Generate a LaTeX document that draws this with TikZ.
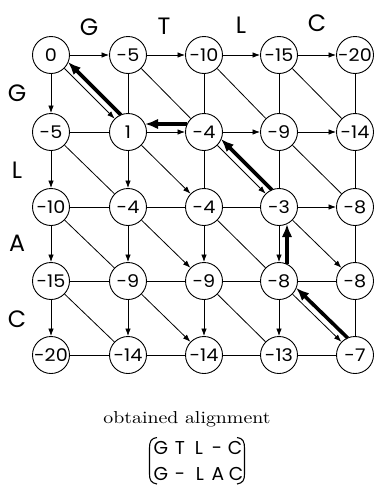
\documentclass[tikz,border=0pt]{standalone}
\usepackage{fontspec}
\newfontfamily\geo{Poppins}
\newfontfamily\geowide{Poppins}[FakeStretch=1.1]
\usetikzlibrary{arrows.meta}

% font sizes chosen from the measured cap and digit heights of the sans face
\newlength\capH
\newlength\digH
\settoheight\capH{\geo H}
\settoheight\digH{\geo 0}
\pgfmathsetmacro\seqsize{10*16.5/\capH}
\pgfmathsetmacro\alnsize{10*13/\capH}
\pgfmathsetmacro\cellsize{10*12.8/\digH}

\begin{document}
\begin{tikzpicture}[x=1pt,y=-1pt,
  cell/.style={circle,draw,line width=0.9pt,minimum size=37pt,inner sep=0pt,
    font=\geowide\fontsize{\cellsize}{\cellsize}\selectfont},
  link/.style={line width=0.8pt},
  flow/.style={line width=0.8pt,-{Latex[length=7.5pt,width=5.5pt]}},
  trace/.style={line width=3.6pt,-{Latex[length=13pt,width=10.5pt]},
    shorten <=17pt,shorten >=17pt},
  seq/.style={font=\geo\fontsize{\seqsize}{\seqsize}\selectfont,inner sep=0pt},
  aln/.style={font=\geo\fontsize{\alnsize}{\alnsize}\selectfont,inner sep=0pt,anchor=base},
]
\useasboundingbox (0,0) rectangle (374,485);

% score matrix cells
\node[cell] (n00) at (51,55) {0};
\node[cell] (n01) at (128,55) {-5};
\node[cell] (n02) at (204,55) {-10};
\node[cell] (n03) at (279,55) {-15};
\node[cell] (n04) at (355,55) {-20};
\node[cell] (n10) at (51,132) {-5};
\node[cell] (n11) at (128,132) {1};
\node[cell] (n12) at (204,132) {-4};
\node[cell] (n13) at (279,132) {-9};
\node[cell] (n14) at (355,132) {-14};
\node[cell] (n20) at (51,207) {-10};
\node[cell] (n21) at (128,207) {-4};
\node[cell] (n22) at (204,207) {-4};
\node[cell] (n23) at (279,207) {-3};
\node[cell] (n24) at (355,207) {-8};
\node[cell] (n30) at (51,281) {-15};
\node[cell] (n31) at (128,281) {-9};
\node[cell] (n32) at (204,281) {-9};
\node[cell] (n33) at (279,281) {-8};
\node[cell] (n34) at (355,281) {-8};
\node[cell] (n40) at (51,355) {-20};
\node[cell] (n41) at (128,355) {-14};
\node[cell] (n42) at (204,355) {-14};
\node[cell] (n43) at (279,355) {-13};
\node[cell] (n44) at (355,355) {-7};

% edges that give the maximum score
\foreach \a/\b in {n00/n01,n01/n02,n02/n03,n03/n04,n11/n12,n12/n13,n13/n14,n23/n24,
  n00/n10,n10/n20,n20/n30,n30/n40,n11/n21,n21/n31,n31/n41,n22/n32,n32/n42,n23/n33,n33/n43,
  n00/n11,n11/n22,n12/n23,n21/n32,n23/n34,n31/n42,n33/n44}
  \draw[flow] (\a) -- (\b);

% remaining edges
\foreach \a/\b in {n10/n11,n20/n21,n21/n22,n22/n23,n30/n31,n31/n32,n32/n33,n33/n34,
  n40/n41,n41/n42,n42/n43,n43/n44,
  n01/n11,n02/n12,n12/n22,n03/n13,n13/n23,n04/n14,n14/n24,n24/n34,n34/n44,
  n01/n12,n02/n13,n03/n14,n10/n21,n13/n24,n20/n31,n22/n33,n30/n41,n32/n43}
  \draw[link] (\a) -- (\b);

% traceback path
\draw[trace] ([shift={(5,-5)}]n44.center) -- ([shift={(5,-5)}]n33.center);
\draw[trace] ([shift={(8,0)}]n33.center) -- ([shift={(8,0)}]n23.center);
\draw[trace] ([shift={(5,-5)}]n23.center) -- ([shift={(5,-5)}]n12.center);
\draw[trace] ([shift={(0,-8)}]n12.center) -- ([shift={(0,-8)}]n11.center);
\draw[trace] ([shift={(5,-5)}]n11.center) -- ([shift={(5,-5)}]n00.center);

% sequence letters
\node[seq] (s1) at (89,27) {G};
\node[seq] (s2) at (164,26.5) {T};
\node[seq] (s3) at (241,25) {L};
\node[seq] (s4) at (317,23) {C};
\node[seq] (t1) at (17,93) {G};
\node[seq] (t2) at (17,170) {L};
\node[seq] (t3) at (17,243) {A};
\node[seq] (t4) at (17,319) {C};

% resulting alignment
\node[anchor=base,inner sep=0pt] (cap) at (187,423) {\resizebox{167pt}{12pt}{obtained alignment}};
\node[aln] (a11) at (161,454.5) {G};
\node[aln] (a12) at (180,454.5) {T};
\node[aln] (a13) at (199,454.5) {L};
\node[aln] (a14) at (217,454.5) {-};
\node[aln] (a15) at (235,454.5) {C};
\node[aln] (a21) at (161,480) {G};
\node[aln] (a22) at (180,480) {-};
\node[aln] (a23) at (200,480) {L};
\node[aln] (a24) at (218,480) {A};
\node[aln] (a25) at (236,480) {C};
\draw[line width=1.1pt] (157,437.5) .. controls (151,438) and (149.5,442) .. (149.5,448)
  -- (149.5,474) .. controls (149.5,480) and (151,483) .. (157,484);
\draw[line width=1.1pt] (237,437.5) .. controls (243,438) and (244.5,442) .. (244.5,448)
  -- (244.5,474) .. controls (244.5,480) and (243,483) .. (237,484);
\end{tikzpicture}
\end{document}
